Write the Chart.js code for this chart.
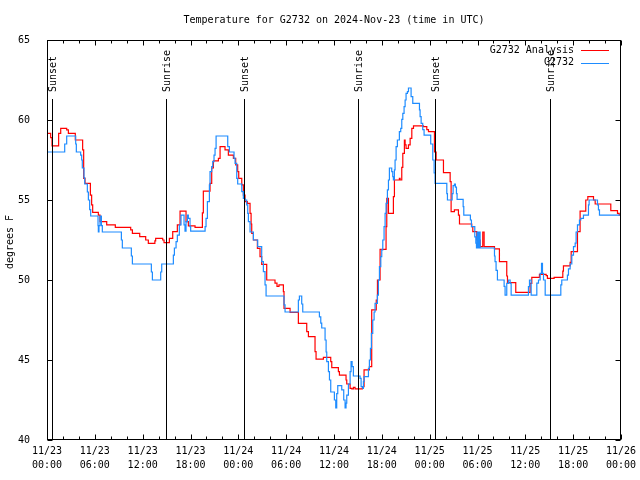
<!DOCTYPE html>
<html>
<head>
<meta charset="utf-8">
<script src="https://cdn.jsdelivr.net/npm/chart.js@4.4.1/dist/chart.umd.min.js"></script>
<style>
    html, body { margin: 0; padding: 0; background: #ffffff; }
    #tempChart { display: block; }
</style>
</head>
<body>
<canvas id="tempChart" width="640" height="480"></canvas>
<script>
// === Data ===
const analysisHours = [
    0, 0.46, 0.63, 1.46, 1.72, 2.47, 2.68, 3.55, 4.47, 4.6, 4.77, 5.44, 5.6, 5.73, 6.44, 6.65,
    7.49, 8.57, 10.5, 10.71, 11.63, 12.38, 12.71, 13.53, 13.63, 14.51, 14.68, 15.35, 15.77, 16.35,
    16.69, 17.44, 17.73, 18.57, 19.49, 19.61, 20.45, 20.66, 20.87, 21.5, 21.71, 22.33, 22.75,
    23.38, 23.67, 23.92, 24.05, 24.43, 24.63, 24.84, 25.14, 25.47, 25.6, 25.68, 25.89, 26.39,
    26.72, 26.93, 27.56, 28.6, 28.85, 29.1, 29.65, 29.73, 30.49, 31.53, 32.58, 32.79, 33.62,
    33.75, 34.67, 35.59, 35.72, 36.55, 36.68, 37.51, 37.6, 38.02, 38.23, 38.43, 38.64, 39.56,
    39.77, 40.44, 40.73, 41.3, 41.45, 41.78, 42.53, 42.62, 42.83, 43.45, 43.58, 44.2, 44.29,
    44.5, 44.63, 44.83, 44.92, 45.04, 45.34, 45.55, 45.76, 45.97, 47.22, 47.64, 47.85, 48.6,
    48.81, 49.73, 50.57, 50.69, 51.1, 51.61, 51.74, 53.28, 53.41, 53.91, 54.33, 54.66, 54.83,
    56.13, 56.75, 57.67, 57.76, 58.8, 60.6, 60.81, 61.77, 62.61, 62.77, 63.61, 64.7, 64.78,
    65.62, 65.75, 66.54, 66.87, 67.58, 67.84, 68.55, 68.76, 70.72, 71.56, 71.77, 72
];
const analysisTemps = [
    59.17, 58.9, 58.38, 59.17, 59.48, 59.38, 59.17, 58.75, 58.13, 56.35, 56.04, 55.31, 54.69, 54.23, 54.06, 53.65,
    53.44, 53.29, 53.13, 52.92, 52.71, 52.5, 52.29, 52.45, 52.6, 52.5, 52.33, 52.6, 53.02, 53.44,
    54.31, 53.65, 53.38, 53.29, 54.2, 55.56, 56.04, 57.0, 57.44, 57.6, 58.33, 58.13, 57.81,
    57.6, 57.19, 56.77, 56.35, 55.94, 55.31, 54.9, 54.79, 54.17, 53.5, 52.92, 52.5, 51.98,
    51.46, 50.98, 50.0, 49.8, 49.6, 49.7, 49.27, 48.23, 47.98, 47.29, 46.77, 46.46, 45.52,
    45.06, 45.17, 44.9, 44.52, 44.27, 44.06, 43.75, 43.5, 43.23, 43.19, 43.29, 43.19, 43.33,
    44.38, 44.58, 48.13, 48.75, 50.0, 51.92, 53.33, 55.1, 54.17, 55.21, 56.25, 56.35, 56.25,
    57.04, 57.92, 58.75, 58.44, 58.23, 58.44, 58.85, 59.48, 59.63, 59.58, 59.4, 59.27, 58.0,
    57.5, 56.71, 56.15, 54.27, 54.38, 54.06, 53.5, 53.33, 53.02, 52.5, 52.08, 53.0, 52.08,
    51.94, 51.15, 50.25, 49.83, 49.23, 49.79, 50.17, 50.35, 50.27, 50.1, 50.17, 50.56, 50.88,
    51.1, 51.77, 53.02, 54.31, 55.0, 55.21, 55.0, 54.75, 54.33, 54.17, 54.06, 53.85
];

const stationHours = [
    0, 2.22, 2.47, 3.6, 3.68, 4.22, 4.35, 4.43, 4.64, 4.73, 5.06, 5.19, 5.35, 5.48, 6.4, 6.44,
    6.52, 6.65, 6.82, 6.94, 9.33, 9.45, 10.58, 10.71, 13.09, 13.22, 14.26, 14.39, 15.85, 15.98,
    16.19, 16.35, 16.6, 16.81, 17.19, 17.31, 17.44, 17.61, 17.73, 17.94, 18.02, 19.83, 19.95,
    20.12, 20.37, 20.45, 20.66, 20.79, 20.95, 21.08, 21.21, 22.67, 22.88, 23.46, 23.59, 23.8,
    23.92, 24.43, 24.63, 24.84, 25.05, 25.18, 25.26, 25.47, 25.89, 26.43, 26.93, 27.14, 27.35,
    27.48, 29.73, 29.86, 31.53, 31.66, 31.95, 32.08, 34.17, 34.34, 34.46, 34.88, 35.01, 35.09,
    35.3, 35.43, 35.59, 36.05, 36.22, 36.34, 36.47, 36.97, 37.22, 37.39, 37.51, 37.6, 37.81,
    38.02, 38.14, 38.27, 38.43, 39.27, 39.4, 39.61, 39.69, 39.77, 40.32, 40.44, 40.57, 40.69,
    40.86, 41.03, 41.15, 41.44, 41.57, 41.7, 41.87, 41.99, 42.12, 42.28, 42.41, 42.53, 42.7,
    42.83, 42.95, 43.24, 43.37, 43.45, 43.58, 43.66, 43.79, 43.95, 44.2, 44.37, 44.5, 44.63,
    44.79, 44.92, 45.04, 45.21, 45.34, 45.67, 45.88, 46.72, 46.8, 46.93, 47.13, 47.3, 48.13,
    48.39, 48.56, 48.68, 50.15, 50.23, 50.82, 50.94, 51.11, 51.23, 51.36, 51.44, 52.2, 52.28,
    53.11, 53.24, 53.66, 53.79, 53.87, 53.95, 54.08, 54.2, 54.33, 56.13, 56.2, 56.33, 56.5,
    57.34, 57.46, 57.67, 57.88, 58.09, 58.22, 60.39, 60.52, 60.73, 61.44, 61.65, 61.86, 62.03,
    62.15, 62.28, 62.49, 64.45, 64.57, 65.28, 65.41, 65.62, 65.83, 66.04, 66.25, 66.37, 66.54,
    66.79, 66.96, 67.29, 67.92, 68.0, 69.05, 69.17, 69.3, 72
];
const stationTemps = [
    58, 58.5, 59, 58.5, 58, 57.8, 57.5, 57, 56.4, 56, 55.5, 55, 54.4, 54, 53.4, 53,
    53.4, 54, 53.4, 53, 52.5, 52, 51.5, 51, 50.5, 50, 50.5, 51, 51.56, 52,
    52.4, 52.8, 53.44, 54.06, 53.44, 53.06, 53.65, 54.06, 53.85, 53.33, 53.06, 53.33, 53.85,
    54.9, 55.94, 56.77, 57.08, 57.4, 57.81, 58.23, 59.0, 58.33, 58.0, 57.6, 57.29, 56.35,
    56.0, 55.52, 55.1, 55.0, 54.69, 54.17, 53.65, 53.0, 52.5, 52.08, 51.15, 50.52, 49.69,
    49.0, 48.44, 48.0, 48.75, 49.0, 48.5, 48.0, 47.7, 47.3, 47.0, 46.25, 45.5, 44.9,
    44.27, 43.75, 43.0, 42.5, 42.0, 42.9, 43.4, 43.13, 42.5, 42.0, 42.3, 42.8, 43.5,
    44.27, 44.9, 44.58, 44.0, 43.85, 43.33, 43.23, 43.65, 43.96, 44.48, 45.0, 45.73, 46.67,
    47.5, 48.0, 48.54, 49.06, 50.0, 50.83, 51.46, 51.88, 52.5, 53.33, 54.17, 54.79, 55.63,
    56.25, 57.0, 56.77, 56.46, 56.25, 56.88, 57.5, 58.33, 58.75, 59.27, 59.48, 60.04, 60.42,
    60.83, 61.25, 61.67, 61.77, 62.0, 61.46, 61.04, 60.63, 60.21, 59.79, 59.4, 59.06, 58.5,
    57.5, 56.7, 56.04, 55.4, 55.0, 55.4, 55.9, 56.0, 55.8, 55.4, 55.04, 54.58, 54.06,
    53.75, 53.33, 52.7, 52.3, 52.0, 53.0, 52.0, 53.0, 52.0, 51.5, 51.15, 50.6, 50.0,
    49.6, 49.06, 49.79, 50.0, 49.79, 49.06, 49.58, 50.0, 49.06, 49.8, 50.0, 50.42, 51.04,
    50.42, 50.0, 49.06, 49.7, 50.0, 50.3, 50.7, 51.0, 51.56, 52.08, 52.3, 53.0, 53.44,
    53.75, 53.85, 54.06, 54.69, 55.0, 54.69, 54.38, 54.06, 54.0
];

const sunEventHours = [0.67, 14.93, 24.76, 39.06, 48.72, 63.15];
const sunEventLabels = ["Sunset", "Sunrise", "Sunset", "Sunrise", "Sunset", "Sunrise"];

const tickDates = ["11/23", "11/23", "11/23", "11/23", "11/24", "11/24", "11/24", "11/24", "11/25", "11/25", "11/25", "11/25", "11/26"];
const tickTimes = ["00:00", "06:00", "12:00", "18:00", "00:00", "06:00", "12:00", "18:00", "00:00", "06:00", "12:00", "18:00", "00:00"];

const seriesNames = ["G2732 Analysis", "G2732"];
const seriesColors = ["#ff0000", "#1e8cff"];

const titleText = "Temperature for G2732 on 2024-Nov-23 (time in UTC)";
const yAxisTitle = "degrees F";

const FONT = "10px 'DejaVu Sans Mono', monospace";

function toPoints(hours, temps) {
    return hours.map((h, i) => ({ x: h, y: temps[i] }));
}

// keep the plot box where gnuplot puts it
function fixXBox(scale) {
    scale.height = 40;
    scale.paddingLeft = 0;
    scale.paddingRight = 0;
}
function fixYBox(scale) {
    scale.width = 47;
    scale.paddingTop = 0;
    scale.paddingBottom = 0;
}

// === Frame, ticks, sun lines, title, legend ===
const gnuplotDecor = {
    id: "gnuplotDecor",
    afterDatasetsDraw(chart) {
        const ctx = chart.ctx;
        const area = chart.chartArea;
        const xs = chart.scales.x;
        const ys = chart.scales.y;
        const left = Math.round(area.left) + 0.5;
        const right = Math.round(area.right) - 0.5;
        const top = Math.round(area.top) + 0.5;
        const bottom = Math.round(area.bottom) - 0.5;

        ctx.save();
        ctx.strokeStyle = "#000000";
        ctx.lineWidth = 1;

        // sunrise / sunset markers
        const lineTop = Math.round(ys.getPixelForValue(61.3));
        sunEventHours.forEach((h, i) => {
            const px = Math.round(xs.getPixelForValue(h)) + 0.5;
            ctx.beginPath();
            ctx.moveTo(px, lineTop);
            ctx.lineTo(px, bottom);
            ctx.stroke();

            ctx.save();
            ctx.translate(px + 1, lineTop - 7);
            ctx.rotate(-Math.PI / 2);
            ctx.font = FONT;
            ctx.fillStyle = "#000000";
            ctx.textAlign = "left";
            ctx.textBaseline = "middle";
            ctx.fillText(sunEventLabels[i], 0, 0);
            ctx.restore();
        });

        // border
        ctx.strokeRect(left, top, right - left, bottom - top);

        // x ticks, major every 6 h, minor every 2 h
        for (let h = 0; h <= 72; h += 2) {
            const px = Math.round(xs.getPixelForValue(h)) + 0.5;
            const len = h % 6 === 0 ? 5 : 3;
            ctx.beginPath();
            ctx.moveTo(px, bottom);
            ctx.lineTo(px, bottom - len);
            ctx.moveTo(px, top);
            ctx.lineTo(px, top + len);
            ctx.stroke();
        }

        // y ticks on both sides
        for (let v = 40; v <= 65; v += 5) {
            const py = Math.round(ys.getPixelForValue(v)) + 0.5;
            ctx.beginPath();
            ctx.moveTo(left, py);
            ctx.lineTo(left + 5, py);
            ctx.moveTo(right, py);
            ctx.lineTo(right - 5, py);
            ctx.stroke();
        }

        // title, centred over the plot area
        ctx.font = FONT;
        ctx.fillStyle = "#000000";
        ctx.textAlign = "center";
        ctx.textBaseline = "middle";
        ctx.fillText(titleText, (area.left + area.right) / 2, 20);

        // y axis title
        ctx.save();
        ctx.translate(10, (area.top + area.bottom) / 2 + 2);
        ctx.rotate(-Math.PI / 2);
        ctx.fillText(yAxisTitle, 0, 0);
        ctx.restore();

        // key
        ctx.textAlign = "right";
        seriesNames.forEach((name, i) => {
            const ky = 50 + i * 12.5;
            ctx.fillStyle = "#000000";
            ctx.fillText(name, 574, ky);
            ctx.strokeStyle = seriesColors[i];
            ctx.beginPath();
            ctx.moveTo(581, Math.round(ky) + 0.5);
            ctx.lineTo(609, Math.round(ky) + 0.5);
            ctx.stroke();
        });

        ctx.restore();
    }
};

// === Chart ===
const tempChart = new Chart(document.getElementById("tempChart"), {
    type: "line",
    data: {
        datasets: [
            {
                label: seriesNames[0],
                data: toPoints(analysisHours, analysisTemps),
                borderColor: seriesColors[0],
                borderWidth: 1.2,
                stepped: true,
                pointRadius: 0,
                fill: false,
                order: 1
            },
            {
                label: seriesNames[1],
                data: toPoints(stationHours, stationTemps),
                borderColor: seriesColors[1],
                borderWidth: 1.2,
                stepped: true,
                pointRadius: 0,
                fill: false,
                order: 0
            }
        ]
    },
    options: {
        responsive: false,
        animation: false,
        devicePixelRatio: 1,
        layout: { padding: { top: 40, right: 19, left: 0, bottom: 0 } },
        plugins: {
            legend: { display: false },
            title: { display: false },
            tooltip: { enabled: false }
        },
        scales: {
            x: {
                type: "linear",
                min: 0,
                max: 72,
                grid: { display: false },
                border: { display: false },
                ticks: {
                    stepSize: 6,
                    maxRotation: 0,
                    autoSkip: false,
                    padding: -3,
                    color: "#000000",
                    font: { family: "'DejaVu Sans Mono', monospace", size: 10, lineHeight: 1.35 },
                    callback: (value) => {
                        const i = Math.round(value / 6);
                        return [tickDates[i], tickTimes[i]];
                    }
                },
                afterFit: fixXBox
            },
            y: {
                min: 40,
                max: 65,
                grid: { display: false },
                border: { display: false },
                ticks: {
                    stepSize: 5,
                    padding: 9,
                    color: "#000000",
                    font: { family: "'DejaVu Sans Mono', monospace", size: 10 }
                },
                afterFit: fixYBox
            }
        }
    },
    plugins: [gnuplotDecor]
});
</script>
</body>
</html>
